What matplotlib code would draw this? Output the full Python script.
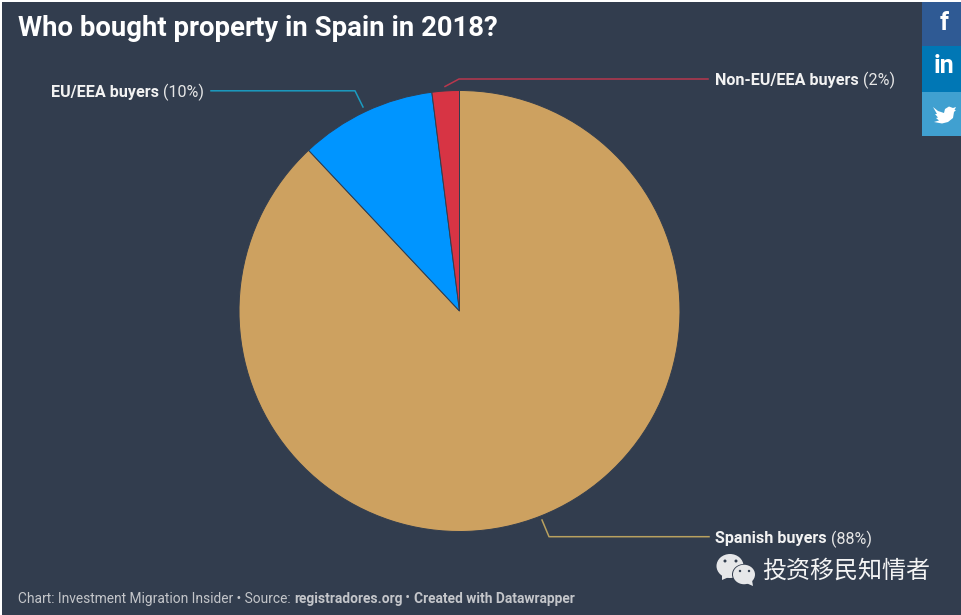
#!/usr/bin/env python3

import matplotlib
matplotlib.use("Agg")
import matplotlib.pyplot as plt
from matplotlib.patches import Ellipse, Polygon, Rectangle

W, H = 962, 615
BG = "#323d4e"

names = ["Spanish buyers", "EU/EEA buyers", "Non-EU/EEA buyers"]
shares = [88, 10, 2]
colors = ["#cda160", "#0095ff", "#d73444"]
line_colors = ["#b9a15f", "#1b9cc0", "#b8374d"]

TITLE = "Who bought property in Spain in 2018?"
FOOTER = [("Chart: Investment Migration Insider • Source: ", "normal"),
          ("registradores.org", "bold"),
          (" • ", "normal"),
          ("Created with Datawrapper", "bold")]
WATERMARK = "投资移民知情者"

plt.rcParams["font.family"] = ["Roboto", "DejaVu Sans"]

fig = plt.figure(figsize=(W / 100, H / 100), dpi=100, facecolor="white")
ax = fig.add_axes([0, 0, 1, 1])


def fy(y):
    # picture coords have y going down
    return H - y


def runs(x, y, parts, size, color):
    # text pieces side by side, each one starts where the last one ended
    r = fig.canvas.get_renderer()
    for s, weight, c in [(p[0], p[1], p[2] if len(p) > 2 else color) for p in parts]:
        t = ax.text(x, fy(y), s.replace(" ", "\u00a0"), fontsize=size, fontweight=weight,
                    color=c, va="center", ha="left")
        x = t.get_window_extent(r).x1


# panel
ax.add_patch(Rectangle((2.5, 0), W, H - 1.5, color=BG, lw=0, zorder=0))

# pie
ax.pie(shares, colors=colors, startangle=90, counterclock=False,
       center=(459.5, fy(311)), radius=220.5, frame=False,
       wedgeprops=dict(edgecolor=BG, linewidth=0.7))
ax.set_xlim(0, W)
ax.set_ylim(0, H)
ax.set_aspect("auto")
ax.axis("off")

# leader lines
ax.plot([211, 355, 363], [fy(90.8), fy(90.8), fy(107)], color=line_colors[1], lw=1.1)
ax.plot([445, 459, 708], [fy(86.5), fy(79), fy(79)], color=line_colors[2], lw=1.1)
ax.plot([542, 549, 709], [fy(520), fy(536.7), fy(536.7)], color=line_colors[0], lw=1.1)

# labels
for (n, s, x, y) in zip(names, shares, [715, 51, 715], [539, 92, 80.5]):
    runs(x, y, [(n, "bold", "#f2f2f2"), (" (%d%%)" % s, "normal", "#e6e6e6")], 11.6, "white")

ax.text(18, fy(28.5), TITLE, fontsize=19.85, fontweight="bold", color="white",
        va="center", ha="left")

runs(18, 598.5, FOOTER, 9.87, "#c4c6ca")

# share buttons
ax.add_patch(Rectangle((922, fy(46)), 40, 44, color="#2f5a94", lw=0))
ax.add_patch(Rectangle((922, fy(92)), 40, 46, color="#0077b5", lw=0))
ax.add_patch(Rectangle((922, fy(136)), 40, 44, color="#40a0d0", lw=0))
ax.text(944, fy(22.5), "f", fontsize=18, fontweight="bold", color="white", ha="center", va="center")
ax.text(944, fy(66), "in", fontsize=18, fontweight="bold", color="white", ha="center", va="center")
bird = [(933, 107), (938, 111), (944, 113), (945, 109), (949, 106.5), (953, 108), (956, 107),
        (954.5, 110), (956, 110), (954, 112), (953, 118), (948, 122), (942, 123.5), (934, 122),
        (939, 120.5), (936, 118), (938, 117.5), (935, 114), (937, 114)]
ax.add_patch(Polygon([(x, fy(y)) for x, y in bird], closed=True, color="white", lw=0))

# wechat mark
ax.add_patch(Ellipse((730, fy(566)), 27, 24, color="#e6e7e9", lw=0))
ax.add_patch(Polygon([(722, fy(575)), (722, fy(580)), (729, fy(577))], color="#e6e7e9", lw=0))
ax.add_patch(Ellipse((744, fy(574.5)), 24, 21, color=BG, lw=0))
ax.add_patch(Ellipse((744, fy(574.5)), 22, 19.5, color="#e6e7e9", lw=0))
ax.add_patch(Polygon([(746, fy(583)), (753, fy(586)), (752, fy(580))], color="#e6e7e9", lw=0))
for ex, ey, rad in [(725, 561, 3), (736, 561, 3), (740, 571, 2.4), (749, 571, 2.4)]:
    ax.add_patch(Ellipse((ex, fy(ey)), rad, rad, color=BG, lw=0))
ax.text(762, fy(571), WATERMARK, fontsize=17.3, color="#f4f4f4", ha="left", va="center",
        family=["Noto Sans CJK SC", "DejaVu Sans"])

fig.savefig("out.png", dpi=100)
